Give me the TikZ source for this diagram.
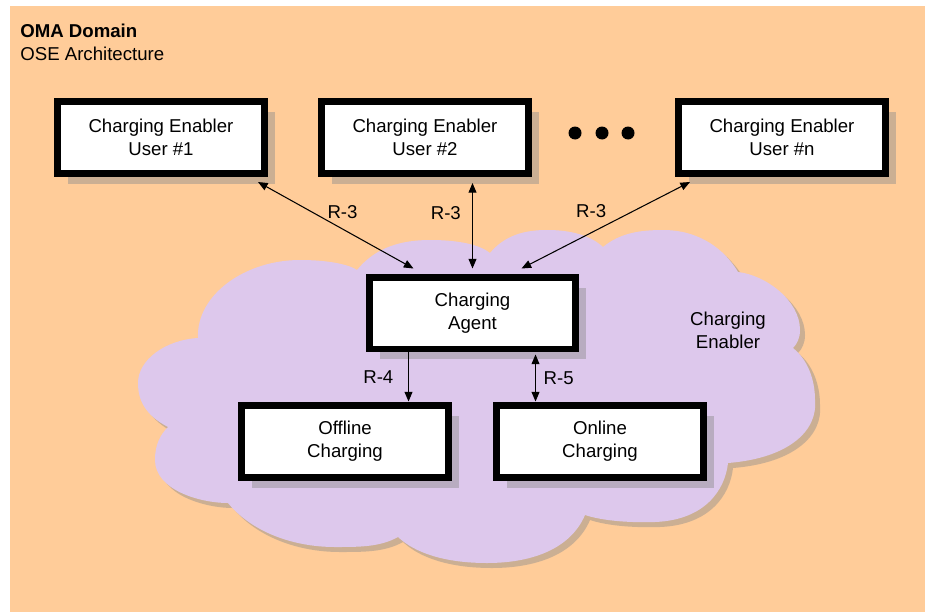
\documentclass[tikz,border=0pt]{standalone}
\usepackage{fontspec}
\setmainfont{Liberation Sans}
\usepackage{xcolor}
\usetikzlibrary{calc,shadows,arrows.meta}

\definecolor{domainorange}{HTML}{FFCC99}
\definecolor{enablerlilac}{HTML}{DDC8EC}

\begin{document}
\begin{tikzpicture}[x=0.02cm, y=-0.02cm]
    % Styles
    \tikzstyle{box} = [rectangle, draw, line width=0.14cm, fill=white, minimum width=4.14cm, minimum height=1.44cm, align=center, font=\fontsize{10.6}{13}\selectfont, drop shadow={shadow xshift=0.21cm, shadow yshift=-0.21cm, fill=black!45, opacity=0.45}]
    \tikzstyle{arrow} = [line width=0.6pt, >={Triangle[length=5.5pt, width=4.5pt]}]
    \tikzstyle{rlabel} = [font=\fontsize{10.6}{13}\selectfont, align=center]

    % Background
    \useasboundingbox (0,0) rectangle (925,612);
    \fill[white] (0,0) rectangle (925,612);
    \fill[domainorange] (10,6) rectangle (925,612);
    \node[rlabel, anchor=north west, inner sep=0pt, align=left] (domain) at (20,24) {\textbf{OMA Domain}\\OSE Architecture};

    % Cloud
    \fill[enablerlilac, drop shadow={shadow xshift=0.1cm, shadow yshift=-0.1cm, fill=black!45, opacity=0.45}]
      (198,338) .. controls (196,295) and (245,260) .. (300,260)
      .. controls (330,260) and (350,265) .. (357,270)
      .. controls (375,248) and (400,240) .. (430,240)
      .. controls (460,240) and (480,245) .. (490,253)
      .. controls (505,235) and (525,230) .. (547,230)
      .. controls (570,230) and (590,235) .. (603,247)
      .. controls (620,233) and (640,230) .. (663,230)
      .. controls (700,230) and (725,250) .. (738,272)
      .. controls (765,275) and (800,300) .. (800,330)
      .. controls (800,338) and (797,344) .. (793,348)
      .. controls (808,360) and (815,380) .. (815,400)
      .. controls (818,430) and (790,458) .. (728,463)
      .. controls (725,490) and (705,520) .. (655,522)
      .. controls (625,523) and (600,520) .. (585,515)
      .. controls (570,550) and (530,563) .. (487,563)
      .. controls (445,563) and (415,553) .. (398,537)
      .. controls (380,547) and (360,547) .. (335,547)
      .. controls (290,547) and (250,530) .. (228,503)
      .. controls (200,503) and (155,490) .. (155,460)
      .. controls (155,445) and (160,435) .. (168,427)
      .. controls (145,415) and (138,400) .. (138,383)
      .. controls (138,360) and (165,340) .. (198,338) -- cycle;
    \node[rlabel] (enabler) at (728,330) {Charging\\Enabler};

    % Nodes
    \node[box] (user1) at (161,137.5) {Charging Enabler\\User \#1};
    \node[box] (user2) at (425,137.5) {Charging Enabler\\User \#2};
    \node[box] (usern) at (782,137.5) {Charging Enabler\\User \#n};
    \node[box] (agent) at (472.5,313) {Charging\\Agent};
    \node[box] (offline) at (345,441) {Offline\\Charging};
    \node[box] (online) at (600,441) {Online\\Charging};
    \foreach \x/\n in {575/1,602/2,628/3}
        \node[circle, fill=black, inner sep=0pt, minimum size=0.26cm] (dot\n) at (\x,133) {};

    % Arrows
    \draw[arrow, <->] ($(user1.south east)+(-10,5)$) -- ($(agent.north west)+(48,-5)$)
        node[rlabel, pos=0.44, above right=-3pt] {R-3};
    \draw[arrow, <->] ($(agent.north |- user2.south)+(0,6)$) -- ($(agent.north)+(0,-5)$)
        node[rlabel, pos=0.35, left=3pt] {R-3};
    \draw[arrow, <->] ($(usern.south west)+(15,5)$) -- ($(agent.north east)+(-58,-5)$)
        node[rlabel, pos=0.47, above left=-1pt] {R-3};

    \coordinate (r4) at ($(agent.south west)+(43,0)$);
    \coordinate (r5) at ($(agent.south west)+(170,2)$);
    \draw[arrow, ->] (r4) -- (r4 |- offline.north)
        node[rlabel, midway, left=5pt] {R-4};
    \draw[arrow, <->] (r5) -- (r5 |- online.north)
        node[rlabel, midway, right=1pt] {R-5};

\end{tikzpicture}
\end{document}
